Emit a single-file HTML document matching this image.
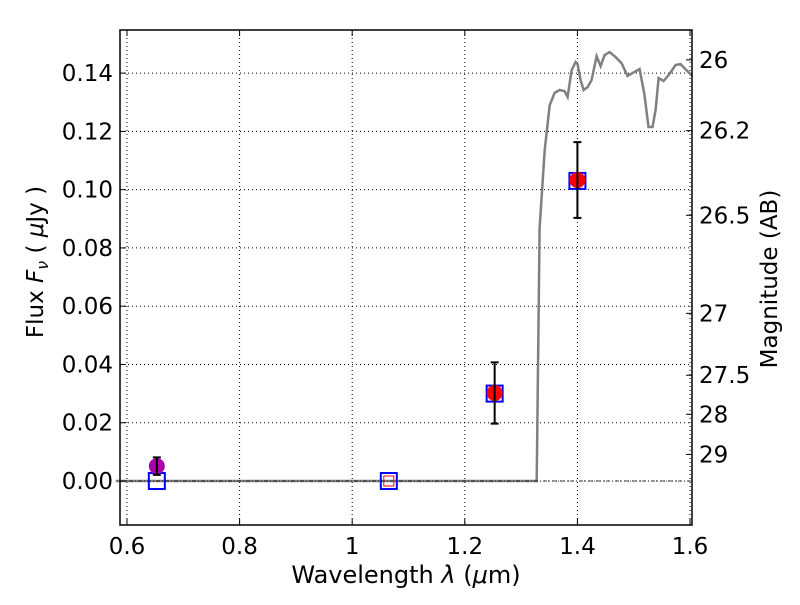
<!DOCTYPE html>
<html><head><meta charset="utf-8"><style>
body{margin:0;background:#fff}
svg text{font-family:"DejaVu Sans","Liberation Sans",sans-serif;fill:#000}
</style></head><body>
<svg id="chart" width="800" height="600" xmlns="http://www.w3.org/2000/svg"></svg>
<script>
const sedWave=[0.58,1.3276,1.3329,1.3418,1.3507,1.3595,1.3684,1.3773,1.3826,1.3897,1.3968,1.4003,1.4057,1.4110,1.4181,1.4252,1.4341,1.4412,1.4483,1.4571,1.4678,1.4784,1.4890,1.4979,1.5104,1.5192,1.5263,1.5334,1.5388,1.5441,1.5530,1.5636,1.5743,1.5831,1.5938,1.604];
const sedFlux=[0,0,0.0868,0.1136,0.1290,0.1332,0.1342,0.1338,0.1318,0.1410,0.1438,0.1431,0.1376,0.1342,0.1352,0.1376,0.1458,0.1424,0.1462,0.1472,0.1455,0.1434,0.1390,0.1400,0.1414,0.1325,0.1215,0.1215,0.1273,0.1383,0.1373,0.1397,0.1428,0.1431,0.1410,0.1390];
const modelWave=[0.653,1.065,1.253,1.400];
const modelFlux=[0,0,0.030,0.103];
const obsWave=[1.253,1.400];
const obsFlux=[0.0302,0.1033];
const obsErr=[0.0105,0.013];
const uvWave=[0.653];const uvFlux=[0.0051];const uvErr=[0.003];
const limWave=[1.065];const limFlux=[0];
const xTicks=[0.6,0.8,1,1.2,1.4,1.6];
const xTickLabels=["0.6","0.8","1","1.2","1.4","1.6"];
const yTicks=[0,0.02,0.04,0.06,0.08,0.10,0.12,0.14];
const yTickLabels=["0.00","0.02","0.04","0.06","0.08","0.10","0.12","0.14"];
const magTicks=[26,26.2,26.5,27,27.5,28,29];
const magLabels=["26","26.2","26.5","27","27.5","28","29"];

const L=120,R=692,T=30,B=525,X0=0.5876,X1=1.6035,Y0=-0.0151,Y1=0.1548;
const sx=v=>L+(v-X0)/(X1-X0)*(R-L);
const sy=v=>B-(v-Y0)/(Y1-Y0)*(B-T);
const svg=document.getElementById('chart');
const NS='http://www.w3.org/2000/svg';
function mk(tag,attrs,parent){const e=document.createElementNS(NS,tag);for(const k in attrs)e.setAttribute(k,attrs[k]);(parent||svg).appendChild(e);return e;}
xTicks.forEach(v=>{const e=mk('line',{x1:sx(v),x2:sx(v),y1:T,y2:B,stroke:'#000','stroke-width':1,'stroke-dasharray':'1,3'});

});
yTicks.forEach(v=>{const e=mk('line',{x1:L,x2:R,y1:sy(v),y2:sy(v),stroke:'#000','stroke-width':1,'stroke-dasharray':'1,3'});

});
let d=sedWave.map((w,i)=>(i?'L':'M')+sx(w).toFixed(1)+','+sy(sedFlux[i]).toFixed(1)).join('');
const sed=mk('path',{d:d,fill:'none',stroke:'#808080','stroke-width':2.5});


const zl=mk('line',{x1:L,x2:R,y1:sy(0),y2:sy(0),stroke:'#000','stroke-width':0.8,'stroke-dasharray':'4,2,1,2'});


modelWave.forEach((w,i)=>{const e=mk('rect',{x:sx(w)-8,y:sy(modelFlux[i])-8,width:16,height:16,fill:'none',stroke:'#0000ff','stroke-width':2});

});
limWave.forEach((w,i)=>{const e=mk('rect',{x:sx(w)-5,y:sy(limFlux[i])-5,width:10,height:10,fill:'none',stroke:'#ff0000','stroke-width':1});

});
function pt(w,f,er,col,name){
 const c=mk('circle',{cx:sx(w),cy:sy(f),r:8,fill:col});
 
 
 const g=mk('path',{d:`M${sx(w)},${sy(f-er)}V${sy(f+er)}M${sx(w)-4},${sy(f-er)}h8M${sx(w)-4},${sy(f+er)}h8`,stroke:'#000','stroke-width':2,fill:'none'});
 
 
}
obsWave.forEach((w,i)=>pt(w,obsFlux[i],obsErr[i],'#ff0000','observed-flux-point'));
uvWave.forEach((w,i)=>pt(w,uvFlux[i],uvErr[i],'#aa00aa','optical-flux-point'));
const fr=mk('rect',{x:L,y:T,width:R-L,height:B-T,fill:'none',stroke:'#000','stroke-width':1.5});


xTicks.forEach((v,i)=>{mk('path',{d:`M${sx(v)},${B}v-6M${sx(v)},${T}v6`,stroke:'#000'});
const t=mk('text',{x:sx(v),y:B+29,'font-size':23,'text-anchor':'middle'});t.textContent=xTickLabels[i];

});
yTicks.forEach((v,i)=>{mk('path',{d:`M${L},${sy(v)}h6`,stroke:'#000'});
const t=mk('text',{x:L-7,y:sy(v)+8,'font-size':23,'text-anchor':'end'});t.textContent=yTickLabels[i];

});
magTicks.forEach((m,i)=>{const f=Math.pow(10,(23.9-m)/2.5);const y=sy(f);
mk('path',{d:`M${R},${y}h-6`,stroke:'#000'});
const t=mk('text',{x:R+7,y:y+8,'font-size':23});t.textContent=magLabels[i];

});
</script>
<svg width="800" height="600" style="position:absolute;left:0;top:0" xmlns="http://www.w3.org/2000/svg">
<text x="406" y="583" font-size="24" text-anchor="middle">Wavelength  <tspan font-style="italic">λ</tspan> (<tspan font-style="italic">μ</tspan>m)</text>
<text transform="translate(43,262) rotate(-90)" font-size="23" text-anchor="middle">Flux  <tspan font-style="italic">F</tspan><tspan font-style="italic" font-size="16" dy="5">ν</tspan><tspan dy="-5">  ( </tspan><tspan font-style="italic">μ</tspan>Jy )</text>
<text transform="translate(777,279) rotate(-90)" font-size="23" text-anchor="middle">Magnitude (AB)</text>
</svg>
</body></html>
